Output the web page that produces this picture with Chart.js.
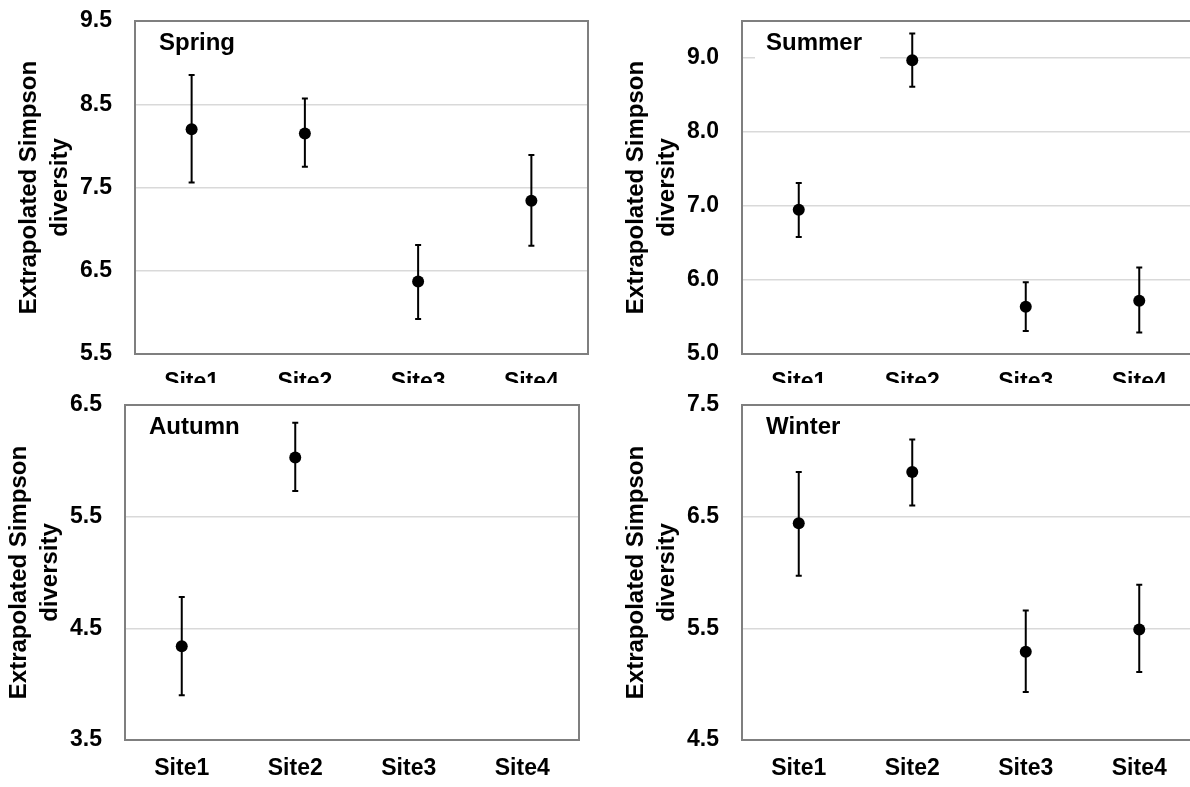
<!DOCTYPE html>
<html>
<head>
<meta charset="utf-8">
<script src="https://cdn.jsdelivr.net/npm/chart.js"></script>
<style>
html, body { margin:0; padding:0; background:#ffffff; overflow:hidden; width:1190px; height:787px; }
canvas.panel { position:absolute; }
</style>
</head>
<body>
<canvas id="chartSpring" class="panel"></canvas>
<canvas id="chartSummer" class="panel"></canvas>
<canvas id="chartAutumn" class="panel"></canvas>
<canvas id="chartWinter" class="panel"></canvas>
<script>
//--------------------------------------
// seasonal Simpson diversity per site
//--------------------------------------

var sites = ["Site1", "Site2", "Site3", "Site4"];

var springMean = [8.20, 8.15, 6.37, 7.34];
var springLow  = [7.56, 7.75, 5.92, 6.80];
var springHigh = [8.85, 8.57, 6.81, 7.89];
var springTicks = [5.5, 6.5, 7.5, 8.5, 9.5];

var summerMean = [6.95, 8.97, 5.64, 5.72];
var summerLow  = [6.58, 8.61, 5.31, 5.29];
var summerHigh = [7.31, 9.33, 5.97, 6.17];
var summerTicks = [5.0, 6.0, 7.0, 8.0, 9.0];

var autumnMean = [4.34, 6.03, null, null];
var autumnLow  = [3.90, 5.73, null, null];
var autumnHigh = [4.78, 6.34, null, null];
var autumnTicks = [3.5, 4.5, 5.5, 6.5];

var winterMean = [6.44, 6.90, 5.29, 5.49];
var winterLow  = [5.97, 6.60, 4.93, 5.11];
var winterHigh = [6.90, 7.19, 5.66, 5.89];
var winterTicks = [4.5, 5.5, 6.5, 7.5];

var yTitle   = ["Extrapolated Simpson", "diversity"];
var fontFace = "'Liberation Sans', Arial, Helvetica, sans-serif";
var gridColor  = "#d9d9d9";
var frameColor = "#7f7f7f";

/*
* season name in the upper left corner, white box hides the grid line behind
*/
var seasonLabelPlugin = {
    id: "seasonLabel",
    beforeDatasetsDraw: function(chart) {
        var opt  = chart.options.plugins.seasonLabel;
        var area = chart.chartArea;
        var ctx  = chart.ctx;
        ctx.save();
        ctx.font = "bold 24px " + fontFace;
        var w  = ctx.measureText(opt.text).width;
        var x  = area.left + 24;
        var cy = area.top + 22;
        ctx.fillStyle = "#ffffff";
        ctx.fillRect(x - 11, cy - 18, w + 29, 36);
        ctx.fillStyle = "#000000";
        ctx.textBaseline = "middle";
        ctx.textAlign = "left";
        ctx.fillText(opt.text, x, cy);
        ctx.restore();
        }
    };

/*
* vertical error bars with small caps, positions from the chart scales
*/
var errorBarPlugin = {
    id: "errorBars",
    beforeDatasetsDraw: function(chart) {
        var opt  = chart.options.plugins.errorBars;
        var xs   = chart.scales.x;
        var ys   = chart.scales.y;
        var ctx  = chart.ctx;
        ctx.save();
        ctx.strokeStyle = "#000000";
        ctx.lineWidth = 2;
        for (var i=0;i<opt.low.length;i++) {
            if (opt.low[i] == null) { continue; }
            var px = xs.getPixelForValue(i);
            var y1 = ys.getPixelForValue(opt.low[i]);
            var y2 = ys.getPixelForValue(opt.high[i]);
            ctx.beginPath();
            ctx.moveTo(px, y1); ctx.lineTo(px, y2);
            ctx.moveTo(px-3, y1); ctx.lineTo(px+3, y1);
            ctx.moveTo(px-3, y2); ctx.lineTo(px+3, y2);
            ctx.stroke();
            }
        ctx.restore();
        }
    };

/*
* grey frame round the plot area
*/
var framePlugin = {
    id: "plotFrame",
    afterDraw: function(chart) {
        var area = chart.chartArea;
        var ctx  = chart.ctx;
        ctx.save();
        ctx.strokeStyle = frameColor;
        ctx.lineWidth = 2;
        ctx.strokeRect(area.left, area.top, area.right - area.left, area.bottom - area.top);
        ctx.restore();
        }
    };

/*
* create one panel
*
* @param (string) id: canvas id
* @param (dict) box: canvas position and size, padding and x axis height
*/
function seasonChart_create(id, season, mean, low, high, ticks, yMin, yMax, box) {

    var canvas = document.getElementById(id);
    canvas.width  = box.width;
    canvas.height = box.height;
    canvas.style.left   = box.left + "px";
    canvas.style.top    = box.top + "px";
    canvas.style.width  = box.width + "px";
    canvas.style.height = box.height + "px";

    return new Chart(canvas, {
        type : "line",
        data : {
            labels   : sites,
            datasets : [{
                label : season,
                data  : mean,
                showLine : false,
                pointRadius : 6,
                pointHoverRadius : 6,
                pointStyle : "circle",
                pointBackgroundColor : "#000000",
                pointBorderWidth : 0,
                borderColor : "#000000"
                }]
            },
        options : {
            responsive : false,
            animation : false,
            devicePixelRatio : 1,
            events : [],
            layout : { padding : { top: box.padTop, right: 2, bottom: 0, left: 0 } },
            plugins : {
                legend  : { display: false },
                tooltip : { enabled: false },
                seasonLabel : { text: season },
                errorBars   : { low: low, high: high }
                },
            scales : {
                x : {
                    type : "category",
                    offset : true,
                    grid : { display: false, drawTicks: false },
                    border : { display: false },
                    ticks : {
                        color : "#000000",
                        padding : 15,
                        maxRotation : 0,
                        font : { family: fontFace, size: 23, weight: "bold" }
                        },
                    afterFit : function(scale) {
                        scale.height = box.xHeight;
                        scale.paddingLeft = 0;
                        scale.paddingRight = 0;
                        }
                    },
                y : {
                    type : "linear",
                    min : yMin,
                    max : yMax,
                    grid : {
                        drawTicks : false,
                        lineWidth : 1.5,
                        color : function(c) {
                            if (c.tick && c.tick.value > yMin && c.tick.value < yMax) { return gridColor; }
                            return "rgba(0,0,0,0)";
                            }
                        },
                    border : { display: false },
                    afterBuildTicks : function(scale) {
                        scale.ticks = ticks.map(function(v) { return { value: v }; });
                        },
                    ticks : {
                        color : "#000000",
                        padding : 23,
                        font : { family: fontFace, size: 23, weight: "bold" },
                        callback : function(v) { return Number(v).toFixed(1); }
                        },
                    title : {
                        display : true,
                        text : yTitle,
                        color : "#000000",
                        padding : { top: 14, bottom: 0 },
                        font : { family: fontFace, size: 24, weight: "bold", lineHeight: 1.3 }
                        },
                    afterFit : function(scale) {
                        scale.width = 135;
                        scale.paddingTop = 0;
                        scale.paddingBottom = 0;
                        }
                    }
                }
            },
        plugins : [seasonLabelPlugin, errorBarPlugin, framePlugin]
        });
    }

seasonChart_create("chartSpring", "Spring", springMean, springLow, springHigh, springTicks, 5.5, 9.5,
    { left: 0,   top: 0,   width: 594, height: 383, padTop: 21, xHeight: 29 });
seasonChart_create("chartSummer", "Summer", summerMean, summerLow, summerHigh, summerTicks, 5.0, 9.5,
    { left: 607, top: 0,   width: 595, height: 383, padTop: 21, xHeight: 29 });
seasonChart_create("chartAutumn", "Autumn", autumnMean, autumnLow, autumnHigh, autumnTicks, 3.5, 6.5,
    { left: -10, top: 385, width: 595, height: 402, padTop: 20, xHeight: 47 });
seasonChart_create("chartWinter", "Winter", winterMean, winterLow, winterHigh, winterTicks, 4.5, 7.5,
    { left: 607, top: 385, width: 595, height: 402, padTop: 20, xHeight: 47 });
</script>
</body>
</html>
